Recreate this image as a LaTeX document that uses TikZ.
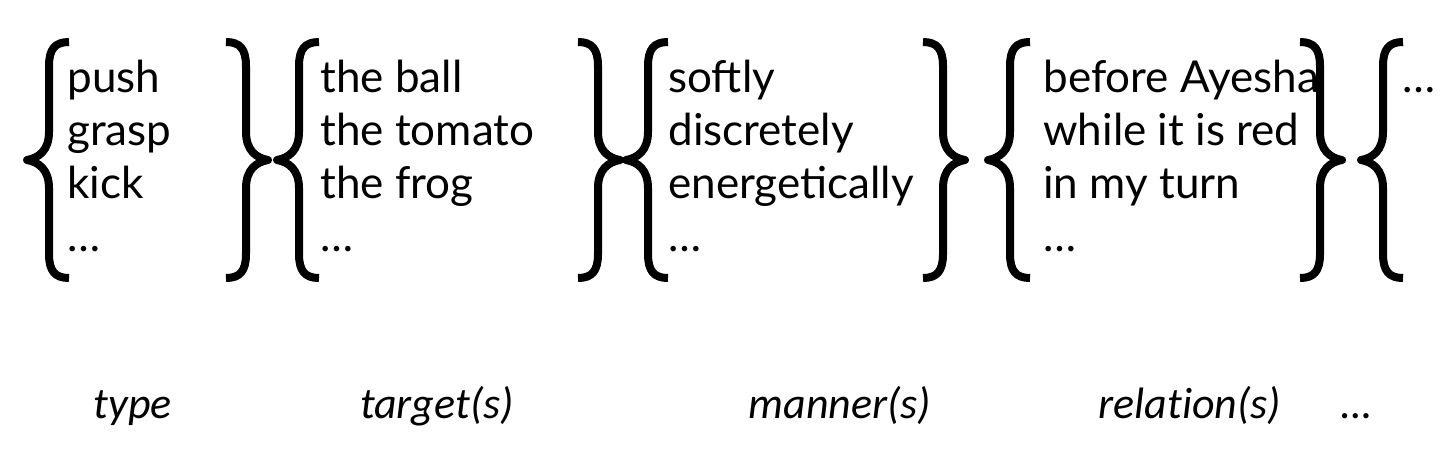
\documentclass[tikz,border=0pt]{standalone}
\usepackage{fontspec}
\setmainfont{Lato}
\newfontfamily\labelfont{Carlito}[Ligatures=NoCommon]
\tikzset{
  brace/.pic={
    \draw[line width=4pt, line join=round]
      (20,-118) .. controls (6,-118) and (0,-111) .. (0,-94) -- (0,-28)
      .. controls (0,-10) and (-10,-2) .. (-22,0)
      .. controls (-10,2) and (0,10) .. (0,28) -- (0,94)
      .. controls (0,111) and (6,118) .. (20,118);
  },
  item/.style={anchor=base west, inner sep=0pt, font=\fontsize{22}{26}\selectfont},
  role/.style={anchor=base, inner sep=0pt, font=\labelfont\itshape\fontsize{22}{26}\selectfont}
}
\begin{document}
\begin{tikzpicture}[x=0.5pt, y=-0.5pt]
  \useasboundingbox (0,0) rectangle (1440,468);
  % braces
  \foreach \x in {49,299,648,1010,1383}
    \pic at (\x,160) {brace};
  \foreach \x in {246,598,943,1320}
    \pic[xscale=-1] at (\x,160) {brace};
  % columns
  \foreach \w [count=\i] in {push,grasp,kick,…}
    \node[item] (type\i) at (67,{39+53*\i}) {\w};
  \foreach \w [count=\i] in {the ball,the tomato,the frog,…}
    \node[item] (target\i) at (320,{39+53*\i}) {\w};
  \foreach \w [count=\i] in {softly,discretely,energetically,…}
    \node[item] (manner\i) at (668,{39+53*\i}) {\w};
  \foreach \w [count=\i] in {before Ayesha,while it is red,in my turn,…}
    \node[item] (relation\i) at (1043,{39+53*\i}) {\w};
  \node[item] (more) at (1402,92) {…};
  % labels
  \node[role] (typelab) at (133,418) {type};
  \node[role] (targetlab) at (437,418) {target(s)};
  \node[role] (mannerlab) at (840,418) {manner(s)};
  \node[role] (relationlab) at (1190,418) {relation(s)};
  \node[role] (morelab) at (1357,418) {…};
\end{tikzpicture}
\end{document}
